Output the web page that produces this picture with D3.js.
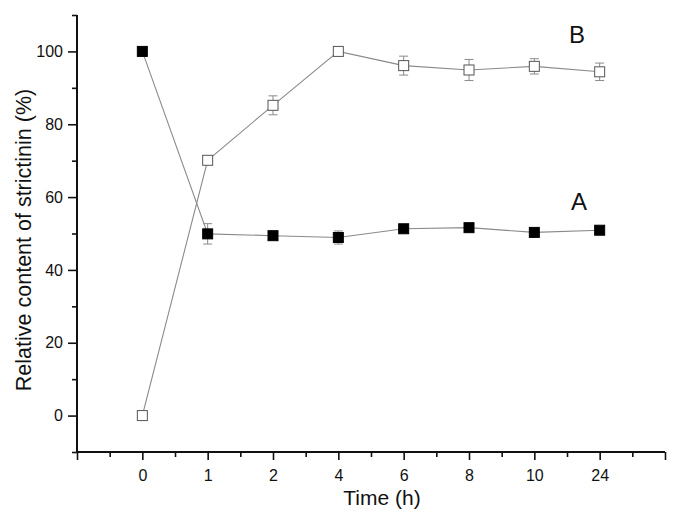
<!DOCTYPE html>
<html><head><meta charset="utf-8">
<script src="https://cdn.jsdelivr.net/npm/d3@7"></script>
<style>body{margin:0;background:#fff}svg{display:block}text{font-family:"Liberation Sans",Arial,sans-serif}</style>
</head><body><svg id="c" width="679" height="523"></svg>
<script>
const categories = ["0","1","2","4","6","8","10","24"];
const seriesA = [100, 49.9, 49.4, 48.9, 51.3, 51.6, 50.3, 50.9];
const errA = [0, 2.8, 0, 1.8, 0, 1.0, 0, 0.8];
const seriesB = [0, 70.1, 85.2, 100, 96.1, 94.9, 95.9, 94.4];
const errB = [0, 0, 2.6, 0, 2.6, 2.9, 2.1, 2.4];
const yTicks = [0, 20, 40, 60, 80, 100];

const svg = d3.select("#c");
const L = 77, R = 665, T = 15, B = 452;
const xi = d3.scaleLinear().domain([-1, 8]).range([L, R]);
const y = d3.scaleLinear().domain([-10, 110]).range([B, T]);

const axisColor = "#111";
// x axis
const xAx = d3.axisBottom(xi).tickValues(d3.range(-1, 9)).tickSize(8)
  .tickFormat(d => (d >= 0 && d < categories.length) ? categories[d] : "");
const gx = svg.append("g").attr("transform", `translate(0,${B})`).call(xAx);
gx.select(".domain").attr("stroke", axisColor).attr("stroke-width", 2).attr("d", `M${L},0H${R}`);
gx.selectAll(".tick line").attr("stroke", axisColor).attr("stroke-width", 1.6);
gx.selectAll(".tick text").attr("font-size", 16).attr("fill", "#111").attr("y", 29).attr("dy", 0);
const xMinor = d3.axisBottom(xi).tickValues(d3.range(-0.5, 8, 1)).tickSize(5).tickFormat("");
const gxm = svg.append("g").attr("transform", `translate(0,${B})`).call(xMinor);
gxm.select(".domain").remove();
gxm.selectAll(".tick line").attr("stroke", axisColor).attr("stroke-width", 1.6);

// y axis
const yAx = d3.axisLeft(y).tickValues(yTicks).tickSize(9).tickFormat(d3.format("d"));
const gy = svg.append("g").attr("transform", `translate(${L},0)`).call(yAx);
gy.select(".domain").attr("stroke", axisColor).attr("stroke-width", 2).attr("d", `M0,${T}V${B}`);
gy.selectAll(".tick line").attr("stroke", axisColor).attr("stroke-width", 1.6);
gy.selectAll(".tick text").attr("font-size", 16).attr("fill", "#111").attr("x", -14);
const yMinor = d3.axisLeft(y).tickValues(d3.range(-10, 111, 20)).tickSize(5).tickFormat("");
const gym = svg.append("g").attr("transform", `translate(${L},0)`).call(yMinor);
gym.select(".domain").remove();
gym.selectAll(".tick line").attr("stroke", axisColor).attr("stroke-width", 1.6);

// titles
svg.append("text").attr("x", 382).attr("y", 505).attr("text-anchor", "middle")
  .attr("font-size", 21).attr("fill", "#111").text("Time (h)");
svg.append("text").attr("transform", `translate(31,240) rotate(-90)`)
  .attr("text-anchor", "middle").attr("font-size", 21.5).attr("fill", "#111")
  .text("Relative content of strictinin (%)");

const lineGen = d3.line().x((d, i) => xi(i)).y(d => y(d));
const gray = "#8a8a8a";
function drawSeries(vals, errs, filled) {
  svg.append("path").datum(vals).attr("d", lineGen).attr("fill", "none")
    .attr("stroke", gray).attr("stroke-width", 1.1);
  const g = svg.append("g");
  vals.forEach((v, i) => {
    const e = errs[i];
    if (e > 0) {
      const cx = xi(i);
      g.append("line").attr("x1", cx).attr("x2", cx).attr("y1", y(v + e)).attr("y2", y(v - e)).attr("stroke", gray).attr("stroke-width", 1);
      [v + e, v - e].forEach(w => g.append("line").attr("x1", cx - 4.5).attr("x2", cx + 4.5)
        .attr("y1", y(w)).attr("y2", y(w)).attr("stroke", gray).attr("stroke-width", 1));
    }
  });
  g.selectAll("rect").data(vals).join("rect")
    .attr("x", (d, i) => xi(i) - 5).attr("y", d => y(d) - 5)
    .attr("width", 10).attr("height", 10)
    .attr("fill", filled ? "#000" : "#fff")
    .attr("stroke", filled ? "#000" : "#555").attr("stroke-width", 1);
}
drawSeries(seriesB, errB, false);
drawSeries(seriesA, errA, true);

svg.append("text").attr("x", 577).attr("y", 43).attr("text-anchor", "middle").attr("font-size", 24).attr("fill", "#111").text("B");
svg.append("text").attr("x", 579).attr("y", 210).attr("text-anchor", "middle").attr("font-size", 24).attr("fill", "#111").text("A");
</script></body></html>
